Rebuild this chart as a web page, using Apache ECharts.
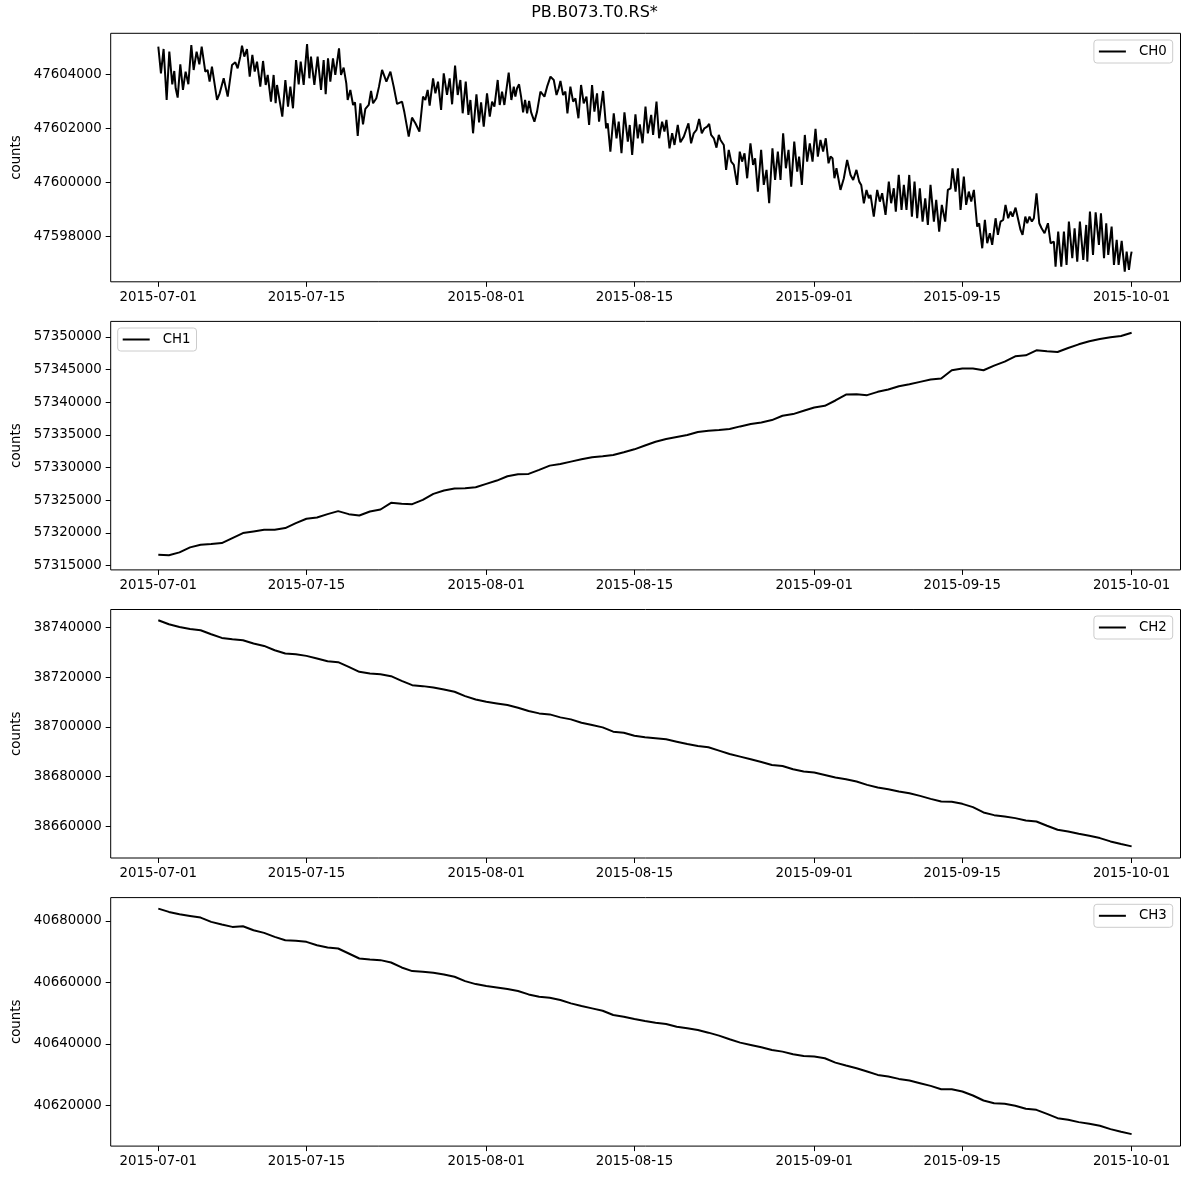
<!DOCTYPE html>
<html>
<head>
<meta charset="utf-8">
<script src="https://cdn.jsdelivr.net/npm/echarts@6/dist/echarts.min.js"></script>
<style>
html,body{margin:0;padding:0;background:#fff;}
#chart{width:1189px;height:1180px;}
</style>
</head>
<body>
<div id="chart"></div>
<script>
// ---- data (days since 2015-07-01 00:00) ----
const titleText = 'PB.B073.T0.RS*';
const channelNames = ['CH0', 'CH1', 'CH2', 'CH3'];
const tickDays = [0, 14, 31, 45, 62, 76, 92];
const tickDates = ['2015-07-01', '2015-07-15', '2015-08-01', '2015-08-15', '2015-09-01', '2015-09-15', '2015-10-01'];

const ch0Days = [
0, 0.25, 0.50, 0.79, 1.04, 1.32, 1.51, 1.64, 1.83, 2.08,
2.33, 2.58, 2.84, 3.12, 3.34, 3.62, 3.88, 4.10, 4.44, 4.66,
4.85, 5.07, 5.55, 5.80, 6.18, 6.56, 6.97, 7.28, 7.50, 7.75,
7.91, 8.13, 8.38, 8.64, 8.89, 9.11, 9.33, 9.64, 9.90, 10.15,
10.34, 10.65, 10.90, 11.09, 11.22, 11.72, 12.01, 12.26, 12.48, 12.73,
13.02, 13.27, 13.46, 13.74, 14.06, 14.28, 14.43, 14.75, 15.06, 15.38,
15.63, 15.82, 16.04, 16.26, 16.51, 16.73, 17.08, 17.27, 17.52, 17.77,
17.90, 18.15, 18.41, 18.59, 18.85, 19.10, 19.35, 19.57, 19.89, 20.11,
20.30, 20.61, 20.86, 21.15, 21.56, 21.94, 22.25, 22.57, 23.04, 23.26,
23.67, 23.98, 24.30, 24.46, 24.68, 25.02, 25.24, 25.46, 25.65, 25.97,
26.19, 26.44, 26.73, 26.98, 27.29, 27.54, 27.77, 28.05, 28.30, 28.55,
28.77, 29.06, 29.31, 29.50, 29.75, 30.07, 30.32, 30.51, 30.76, 31.07,
31.33, 31.55, 31.77, 32.08,
32.27, 32.49, 32.71, 33.12, 33.37, 33.60, 33.75, 33.91, 34.10, 34.29,
34.48, 34.67, 34.86, 35.05, 35.24, 35.55, 35.80, 36.12, 36.28, 36.50,
36.75, 37.07, 37.38, 37.64, 37.85, 38.01, 38.26, 38.48, 38.67, 38.95,
39.21, 39.43, 39.71, 39.96, 40.21, 40.47, 40.72, 41.00, 41.22, 41.47,
41.66, 42.04, 42.33, 42.48, 42.73, 43.05, 43.31, 43.52, 43.78, 44.06,
44.38, 44.56, 44.79, 45.10, 45.32, 45.51, 45.77, 46.05, 46.27, 46.59,
46.77, 47.09, 47.34, 47.62, 47.84, 48.03, 48.32, 48.57, 48.79, 49.10,
49.35, 49.67, 49.79, 50.11, 50.36, 50.61, 50.87, 51.12, 51.37, 51.62,
51.88, 52.07, 52.25, 52.51, 52.76, 52.98, 53.14, 53.45, 53.67, 53.92,
54.15, 54.40, 54.71, 54.96, 55.18, 55.41, 55.66, 55.97, 56.22, 56.41,
56.67, 56.98, 57.23, 57.49, 57.74, 58.05, 58.30, 58.56, 58.81, 59.06,
59.32, 59.57, 59.82, 60.11, 60.39, 60.57, 60.83, 61.11, 61.33, 61.58,
61.84, 62.12, 62.34, 62.59,
62.84, 63.09, 63.35, 63.54, 63.73, 63.91, 64.10, 64.48, 64.80, 65.11,
65.43, 65.68, 65.99, 66.25, 66.44, 66.69, 66.94, 67.16, 67.32, 67.63,
67.95, 68.20, 68.42, 68.74, 69.05, 69.27, 69.52, 69.71, 69.99, 70.25,
70.47, 70.72, 70.98, 71.23, 71.48, 71.73, 71.98, 72.24, 72.49, 72.74,
72.99, 73.31, 73.53, 73.81, 74.06, 74.38, 74.63, 74.89, 75.07, 75.36,
75.58, 75.83, 76.14, 76.36, 76.61, 76.84, 77.09, 77.40, 77.59, 77.88,
78.13, 78.35, 78.60, 78.82, 79.14, 79.36, 79.61, 79.86, 80.08, 80.33,
80.56, 80.75, 81.03, 81.25, 81.50, 81.69, 81.95, 82.13, 82.35, 82.57,
82.76, 83.01, 83.27, 83.49, 83.77, 84.09, 84.34, 84.65, 84.81, 85.06,
85.35, 85.60, 85.85, 86.07, 86.39, 86.61, 86.86, 87.11, 87.43, 87.71,
87.81, 88.06, 88.35, 88.60, 88.91, 89.10, 89.39, 89.60, 89.79, 90.11,
90.33, 90.59, 90.77, 91.06, 91.35, 91.53, 91.75, 91.91, 92.00
];

const ch0Counts = [
47605025, 47604037, 47604939, 47603049, 47604840, 47603630, 47604124, 47603482, 47603136, 47604371,
47603420, 47604099, 47603630, 47605087, 47604161, 47604840, 47604371, 47605025, 47604099, 47604161,
47603729, 47604284, 47603049, 47603296, 47603852, 47603173, 47604346, 47604445, 47604223, 47604655,
47605062, 47604655, 47604939, 47603914, 47604717, 47604099, 47604470, 47603543, 47604494, 47603605,
47603976, 47602988, 47603976, 47602926, 47603605, 47602432, 47603790, 47602802, 47603543, 47602741,
47604531, 47603630, 47604470, 47603605, 47605124, 47603852, 47604655, 47603605, 47604655, 47603420,
47604531, 47603259, 47604593, 47603729, 47604593, 47603976, 47604964, 47603976, 47604247, 47603667,
47603049, 47603420, 47602864, 47602963, 47601715, 47602926, 47602148, 47602716, 47602864, 47603383,
47602926, 47603111, 47603543, 47604161, 47603729, 47604099, 47603543, 47602901, 47602988, 47602592,
47601691, 47602395, 47602185, 47602246, 47601876, 47603173, 47603049, 47603420, 47602839, 47603852,
47603296, 47603729, 47602679, 47604037, 47603235, 47603852, 47602889, 47604321, 47603235, 47603790,
47602555, 47603729, 47602494, 47603049, 47601814, 47603259, 47602222, 47602963, 47602061, 47603296,
47602432, 47602988, 47602802, 47603790,
47602864, 47603358, 47602864, 47604062, 47603049, 47603543, 47603173, 47603482, 47603630, 47603173,
47602592, 47603049, 47602555, 47603012, 47602592, 47602246, 47602617, 47603358, 47603420, 47603173,
47603543, 47603914, 47603790, 47603235, 47603482, 47603753, 47603235, 47603358, 47602555, 47603543,
47602988, 47603111, 47602370, 47603605, 47602926, 47603173, 47602123, 47603605, 47602617, 47603296,
47602246, 47603383, 47601999, 47602185, 47601135, 47602555, 47601629, 47602246, 47601073, 47602592,
47601506, 47602123, 47601012, 47602518, 47601629, 47602148, 47601444, 47602802, 47601814, 47602494,
47601753, 47602988, 47601629, 47602246, 47601876, 47602308, 47601258, 47601814, 47601382, 47602123,
47601481, 47601691, 47601629, 47602185, 47601444, 47601814, 47601938, 47602345, 47601814, 47601999,
47602061, 47602160, 47601753, 47601629, 47601283, 47601753, 47601567, 47601382, 47600456, 47601197,
47600765, 47600641, 47599900, 47601135, 47600765, 47601073, 47600147, 47601444, 47600641, 47600888,
47599653, 47601197, 47599900, 47600456, 47599221, 47601258, 47600085, 47601135, 47600085, 47601814,
47600517, 47601197, 47599838, 47601506, 47600394, 47600950, 47599900, 47601753, 47600765, 47601444,
47600765, 47601975, 47600950, 47601567,
47601135, 47601629, 47600703, 47600950, 47600888, 47600147, 47600517, 47599715, 47600147, 47600826,
47600270, 47600085, 47600456, 47600023, 47599900, 47599221, 47599715, 47599406, 47599529, 47598727,
47599715, 47599282, 47599591, 47598788, 47600023, 47599221, 47599776, 47598912, 47600270, 47598974,
47599900, 47598974, 47600270, 47598727, 47600023, 47598665, 47599776, 47598541, 47599406, 47598418,
47599900, 47598541, 47599344, 47598171, 47599159, 47598541, 47599715, 47599776, 47600517, 47599653,
47600517, 47598974, 47600209, 47599159, 47599653, 47599282, 47599715, 47598356, 47598480, 47597553,
47598603, 47597739, 47598109, 47597677, 47598665, 47598048, 47598541, 47598603, 47599159, 47598665,
47598912, 47598727, 47599060, 47598665, 47598233, 47598048, 47598727, 47598480, 47598727, 47598541,
47598665, 47599591, 47598480, 47598294, 47598109, 47598480, 47597739, 47597800, 47596874, 47598171,
47596874, 47598171, 47596936, 47598541, 47597183, 47598294, 47597059, 47598541, 47597121, 47598418,
47597059, 47598912, 47597306, 47598887, 47597677, 47598850, 47597183, 47598480, 47597306, 47598356,
47596936, 47597862, 47596936, 47597825, 47596689, 47597430, 47596751, 47597245, 47597430
];

// daily samples, day 0 .. 92
const ch1Counts = [
57316680, 57316600, 57317036, 57317799, 57318206, 57318308, 57318461, 57319224, 57319987, 57320241,
57320495, 57320495, 57320750, 57321513, 57322174, 57322378, 57322886, 57323344, 57322886, 57322683,
57323293, 57323598, 57324616, 57324463, 57324412, 57325074, 57325989, 57326498, 57326803, 57326854,
57327007, 57327515, 57328024, 57328685, 57328991, 57329042, 57329652, 57330313, 57330568, 57330924,
57331280, 57331585, 57331738, 57331941, 57332348, 57332806, 57333400, 57333976, 57334383, 57334688,
57334993, 57335451, 57335655, 57335756, 57335909, 57336316, 57336672, 57336926, 57337282, 57337944,
57338198, 57338707, 57339216, 57339470, 57340284, 57341199, 57341250, 57341098, 57341606, 57341963,
57342471, 57342776, 57343133, 57343489, 57343641, 57344913, 57345167, 57345167, 57344913, 57345625,
57346236, 57347050, 57347202, 57347965, 57347813, 57347711, 57348321, 57348881, 57349339, 57349695,
57349949, 57350153, 57350661
];

const ch2Counts = [
38742948, 38741340, 38740268, 38739464, 38738928, 38737320, 38735846, 38735310, 38734908, 38733568,
38732630, 38730888, 38729548, 38729280, 38728610, 38727538, 38726466, 38726064, 38724188, 38722178,
38721508, 38721240, 38720436, 38718560, 38716818, 38716416, 38715880, 38715076, 38714138, 38712396,
38711056, 38710118, 38709448, 38708778, 38707706, 38706366, 38705428, 38705026, 38703820, 38703016,
38701676, 38700738, 38699800, 38698058, 38697656, 38696450, 38695780, 38695378, 38694976, 38694038,
38693100, 38692296, 38691760, 38690420, 38689080, 38688008, 38686936, 38685864, 38684658, 38684256,
38682916, 38681978, 38681576, 38680638, 38679566, 38678896, 38677958, 38676618, 38675546, 38674876,
38673938, 38673268, 38672196, 38670990, 38669918, 38669784, 38668980, 38667640, 38665496, 38664424,
38663888, 38663218, 38662280, 38661878, 38660136, 38658528, 38657858, 38656920, 38656116, 38655178,
38653838, 38652766, 38651828
];

const ch3Counts = [
40684000, 40682919, 40682162, 40681622, 40681081, 40679676, 40678811, 40678054, 40678270, 40676973,
40676108, 40674811, 40673730, 40673514, 40673190, 40672109, 40671352, 40671028, 40669406, 40667785,
40667460, 40667244, 40666487, 40664866, 40663677, 40663461, 40663136, 40662596, 40661839, 40660434,
40659461, 40658812, 40658380, 40657839, 40657191, 40656110, 40655353, 40655029, 40654272, 40653191,
40652326, 40651570, 40650813, 40649408, 40648867, 40648110, 40647462, 40646921, 40646489, 40645624,
40645084, 40644543, 40643678, 40642705, 40641516, 40640435, 40639679, 40638922, 40638057, 40637517,
40636652, 40636111, 40635895, 40635355, 40633949, 40632976, 40632112, 40631031, 40629950, 40629409,
40628652, 40628112, 40627247, 40626382, 40625301, 40625301, 40624545, 40623247, 40621626, 40620761,
40620545, 40619896, 40618923, 40618599, 40617302, 40615897, 40615356, 40614599, 40614059, 40613410,
40612329, 40611465, 40610708
];

const yTicks0 = [47598000, 47600000, 47602000, 47604000];
const yTicks1 = [57315000, 57320000, 57325000, 57330000, 57335000, 57340000, 57345000, 57350000];
const yTicks2 = [38660000, 38680000, 38700000, 38720000, 38740000];
const yTicks3 = [40620000, 40640000, 40660000, 40680000];

// ---- layout / style ----
const FONT = 'DejaVu Sans';
const FS = 13.33;
const gridTops = [33.3, 321.4, 609.5, 897.6];
const gridHeight = 248.5;
const xRange = [-4.5, 96.62];
const yRanges = [
  [47596310, 47605520],
  [57314350, 57352390],
  [38647150, 38747300],
  [40606810, 40687570]
];
const yTickSets = [yTicks0, yTicks1, yTicks2, yTicks3];
const seriesData = [
  ch0Days.map((d, i) => [d, ch0Counts[i]]),
  ch1Counts.map((v, i) => [i, v]),
  ch2Counts.map((v, i) => [i, v]),
  ch3Counts.map((v, i) => [i, v])
];
const legendPos = [
  {right: 16.3, top: 40},
  {left: 117.7, top: 328},
  {right: 16.3, top: 616},
  {right: 16.3, top: 904.3}
];

const grids = [], xAxes = [], yAxes = [], series = [], legends = [];
for (let i = 0; i < 4; i++) {
  grids.push({
    left: 110.7, right: 8.5, top: gridTops[i], height: gridHeight,
    show: true, borderColor: '#000', borderWidth: 1, backgroundColor: 'transparent'
  });
  xAxes.push({
    type: 'value', gridIndex: i, min: xRange[0], max: xRange[1], position: 'bottom',
    axisLine: {show: false, onZero: false},
    splitLine: {show: false},
    axisTick: {show: true, customValues: tickDays, length: 5, lineStyle: {color: '#000', width: 1}},
    axisLabel: {
      customValues: tickDays, margin: 9, color: '#000', fontFamily: FONT, fontSize: FS,
      formatter: v => tickDates[tickDays.indexOf(Math.round(v))]
    }
  });
  yAxes.push({
    type: 'value', gridIndex: i, min: yRanges[i][0], max: yRanges[i][1], position: 'left',
    axisLine: {show: false, onZero: false},
    splitLine: {show: false},
    axisTick: {show: true, customValues: yTickSets[i], length: 5, lineStyle: {color: '#000', width: 1}},
    axisLabel: {
      customValues: yTickSets[i], margin: 9, color: '#000', fontFamily: FONT, fontSize: FS,
      formatter: v => String(Math.round(v))
    },
    name: 'counts', nameLocation: 'middle', nameRotate: 90, nameGap: 86,
    nameTextStyle: {color: '#000', fontFamily: FONT, fontSize: FS}
  });
  series.push({
    type: 'line', name: channelNames[i], xAxisIndex: i, yAxisIndex: i,
    data: seriesData[i], showSymbol: false, symbol: 'none', color: '#000',
    lineStyle: {color: '#000', width: 2}, itemStyle: {color: '#000'},
    animation: false, silent: true, clip: true
  });
  legends.push(Object.assign({
    data: [channelNames[i]], icon: 'rect', itemWidth: 27, itemHeight: 2,
    padding: [5, 6, 5, 5], backgroundColor: 'rgba(255,255,255,0.8)',
    borderColor: '#cccccc', borderWidth: 1, borderRadius: 3,
    selectedMode: false,
    textStyle: {color: '#000', fontFamily: FONT, fontSize: FS, padding: [0, 0, 0, 8]}
  }, legendPos[i]));
}

const chart = echarts.init(document.getElementById('chart'), null, {renderer: 'canvas'});
chart.setOption({
  backgroundColor: '#fff',
  animation: false,
  title: {
    text: titleText, left: 'center', top: 5, padding: 0,
    textStyle: {color: '#000', fontFamily: FONT, fontSize: 16, fontWeight: 'normal'}
  },
  legend: legends,
  grid: grids,
  xAxis: xAxes,
  yAxis: yAxes,
  series: series
});
</script>
</body>
</html>
